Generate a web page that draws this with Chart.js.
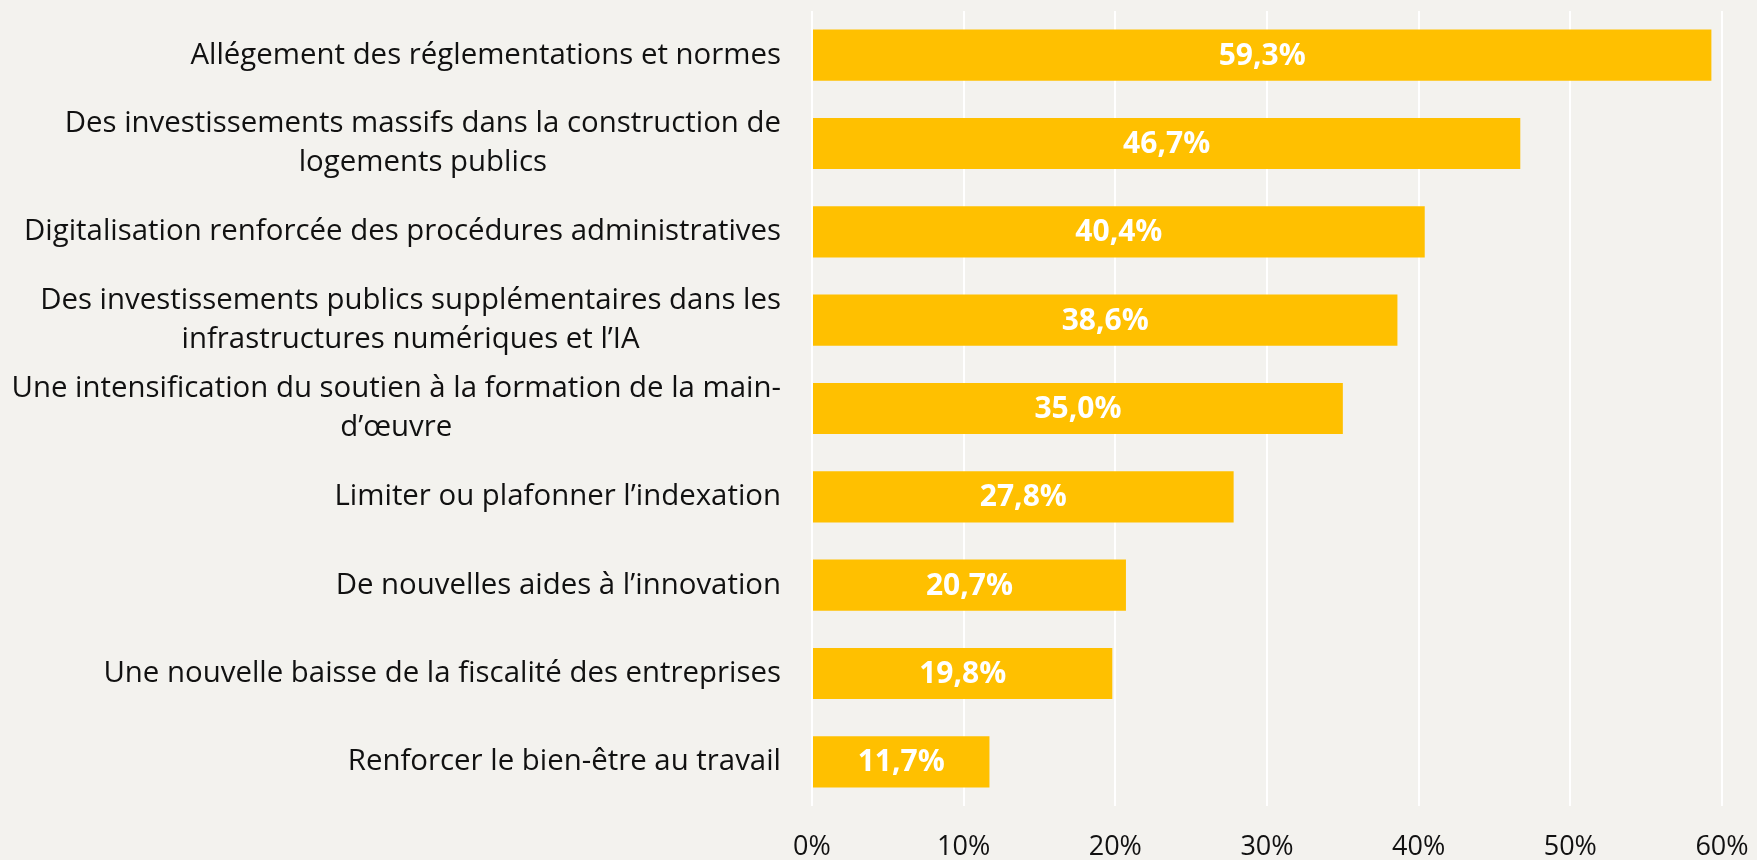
<!DOCTYPE html>
<html>
<head>
<meta charset="utf-8">
<script src="https://cdn.jsdelivr.net/npm/chart.js@4"></script>
<style>
  html, body { margin: 0; padding: 0; background: #f3f2ee; }
  #wrap { width: 1757px; height: 860px; position: relative; }
</style>
</head>
<body>
<div id="wrap"><canvas id="chart"></canvas></div>
<script>
// ---------- data ----------
const categories = [
  ["Allégement des réglementations et normes"],
  ["Des investissements massifs dans la construction de", "logements publics"],
  ["Digitalisation renforcée des procédures administratives"],
  ["Des investissements publics supplémentaires dans les", "infrastructures numériques et l’IA"],
  ["Une intensification du soutien à la formation de la main-", "d’œuvre"],
  ["Limiter ou plafonner l’indexation"],
  ["De nouvelles aides à l’innovation"],
  ["Une nouvelle baisse de la fiscalité des entreprises"],
  ["Renforcer le bien-être au travail"]
];
const values = [59.3, 46.7, 40.4, 38.6, 35.0, 27.8, 20.7, 19.8, 11.7];
const tickValues = [0, 10, 20, 30, 40, 50, 60];

const FONT = "'Open Sans', 'Noto Sans', sans-serif";

// helper: format as "59,3%"
function pct(v, digits) {
  return v.toFixed(digits).replace(".", ",") + "%";
}

// ---------- plugins ----------
// y labels: lines centered on each other, block right-aligned
const yLabels = {
  id: "yLabels",
  afterDraw(chart) {
    const ctx = chart.ctx;
    const y = chart.scales.y;
    const right = chart.chartArea.left - 31;
    const lh = 39;
    ctx.save();
    ctx.font = "29.4px " + FONT;
    ctx.fillStyle = "#111";
    ctx.textAlign = "center";
    ctx.textBaseline = "middle";
    categories.forEach((lines, i) => {
      const cy = y.getPixelForValue(i);
      const w = Math.max(...lines.map(l => ctx.measureText(l).width));
      const cx = right - w / 2;
      const top = cy - (lines.length - 1) * lh / 2;
      lines.forEach((l, j) => ctx.fillText(l, cx, top + j * lh));
    });
    ctx.restore();
  }
};

// values inside the bars
const barValues = {
  id: "barValues",
  afterDatasetsDraw(chart) {
    const ctx = chart.ctx;
    const meta = chart.getDatasetMeta(0);
    ctx.save();
    ctx.font = "bold 30px " + FONT;
    ctx.fillStyle = "#fff";
    ctx.textAlign = "center";
    ctx.textBaseline = "middle";
    meta.data.forEach((bar, i) => {
      const cx = (bar.x + bar.base) / 2;
      ctx.fillText(pct(values[i], 1), cx, bar.y + 1);
    });
    ctx.restore();
  }
};

// ---------- chart ----------
new Chart(document.getElementById("chart"), {
  type: "bar",
  data: {
    labels: categories.map(c => c.join(" ")),
    datasets: [{
      data: values,
      backgroundColor: "#ffc000",
      borderColor: "#ffc000",
      borderWidth: 0,
      barPercentage: 0.58,
      categoryPercentage: 1
    }]
  },
  options: {
    indexAxis: "y",
    responsive: true,
    maintainAspectRatio: false,
    animation: false,
    layout: { padding: { top: 11, right: 35, left: 0, bottom: 0 } },
    plugins: {
      legend: { display: false },
      tooltip: { enabled: false }
    },
    scales: {
      x: {
        min: 0,
        max: 60,
        afterBuildTicks: s => { s.ticks = tickValues.map(v => ({ value: v })); },
        afterFit: s => {
          s.height = 54;
          s.paddingLeft = 0;
          s.paddingRight = 0;
        },
        grid: { color: "#ffffff", lineWidth: 2, drawTicks: false },
        border: { display: false },
        ticks: {
          padding: 25,
          color: "#111",
          font: { family: FONT, size: 27 },
          callback: v => v + "%"
        }
      },
      y: {
        afterFit: s => { s.width = 812; },
        grid: { display: false },
        border: { display: false },
        ticks: { callback: () => "" }
      }
    }
  },
  plugins: [yLabels, barValues]
});
</script>
</body>
</html>
